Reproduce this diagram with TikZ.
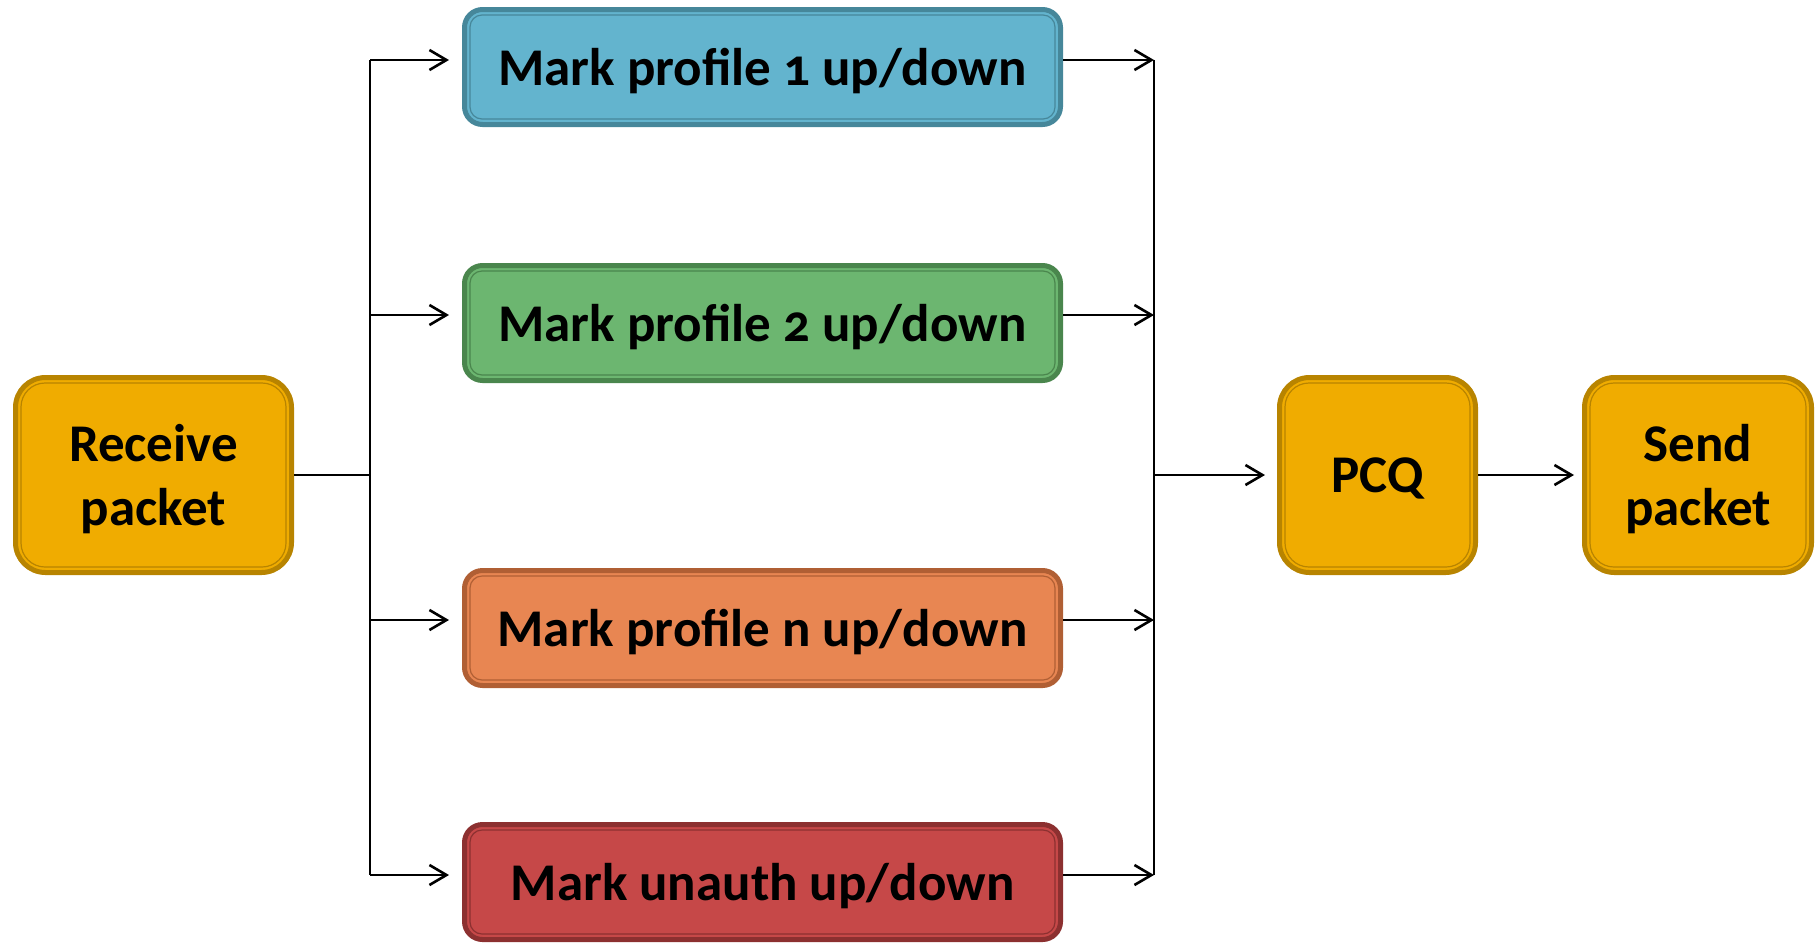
\documentclass[tikz,border=0pt]{standalone}
\usepackage{fontspec}
\setmainfont{Carlito}[Numbers=OldStyle]
\usetikzlibrary{arrows.meta}

\definecolor{goldfill}{HTML}{F0AC00}
\definecolor{goldline}{HTML}{B88400}
\definecolor{bluefill}{HTML}{63B4CE}
\definecolor{blueline}{HTML}{46879A}
\definecolor{greenfill}{HTML}{6CB670}
\definecolor{greenline}{HTML}{4A864D}
\definecolor{orangefill}{HTML}{E88652}
\definecolor{orangeline}{HTML}{B05F34}
\definecolor{redfill}{HTML}{C64848}
\definecolor{redline}{HTML}{8C3030}

\tikzset{
  blockbase/.style={draw, line width=2.5pt, align=center, inner sep=0pt,
    text depth=0pt,
    font=\fontsize{26.5}{32}\selectfont\bfseries, text=black},
  goldblock/.style={blockbase, fill=goldfill, draw=goldline, rounded corners=15pt,
    minimum height=97.5pt},
  markblock/.style={blockbase, fill=#1fill, draw=#1line, rounded corners=9pt,
    minimum width=298pt, minimum height=57.5pt},
  innerline/.style={line width=0.6pt},
  wire/.style={line width=1.3pt, black},
  arr/.style={wire, -{Straight Barb[length=8.5pt, width=10pt]}},
}

\begin{document}
\begin{tikzpicture}[x=0.5pt, y=-0.5pt]
\useasboundingbox (0,0) rectangle (1820,943);

% processing blocks
\node[goldblock, minimum width=138pt] (recv) at (153.5,475) {Receive\\packet};
\node[markblock=blue]   (mp1) at (762.5,67)  {Mark profile 1 up/down};
\node[markblock=green]  (mp2) at (762.5,323) {Mark profile 2 up/down};
\node[markblock=orange] (mpn) at (762.5,628) {Mark profile n up/down};
\node[markblock=red]    (mpu) at (762.5,882) {Mark unauth up/down};
\node[goldblock, minimum width=98pt]    (pcq)  at (1377.5,475) {PCQ};
\node[goldblock, minimum width=113.5pt] (send) at (1698,475)   {Send\\packet};

% thin inner outline of each block
\foreach \n/\c/\r in {recv/gold/12, pcq/gold/12, send/gold/12,
                      mp1/blue/6, mp2/green/6, mpn/orange/6, mpu/red/6}
  \draw[innerline, draw=\c line, rounded corners=\r pt]
    ([shift={(4pt,-4pt)}]\n.north west) rectangle ([shift={(-4pt,4pt)}]\n.south east);

% fan-out bus
\coordinate (lmid) at (370,475);
\coordinate (l1) at (370,60);   \coordinate (t1) at (449,60);
\coordinate (l2) at (370,315);  \coordinate (t2) at (449,315);
\coordinate (l3) at (370,620);  \coordinate (t3) at (449,620);
\coordinate (l4) at (370,875);  \coordinate (t4) at (449,875);

\draw[wire] (recv.east) -- (lmid);
\draw[wire] (l1) -- (l4);
\foreach \i in {1,2,3,4}
  \draw[arr] (l\i) -- (t\i);

% fan-in bus
\coordinate (r1) at (1154,60);
\coordinate (r2) at (1154,315);
\coordinate (r3) at (1154,620);
\coordinate (r4) at (1154,875);
\coordinate (rmid) at (1154,475);

\draw[arr] (mp1.east |- r1) -- (r1);
\draw[arr] (mp2.east |- r2) -- (r2);
\draw[arr] (mpn.east |- r3) -- (r3);
\draw[arr] (mpu.east |- r4) -- (r4);
\draw[wire] (r1) -- (r4);

\draw[arr, shorten >=6pt] (rmid) -- (pcq.west);
\draw[arr, shorten >=4pt] (pcq.east) -- (send.west);
\end{tikzpicture}
\end{document}
